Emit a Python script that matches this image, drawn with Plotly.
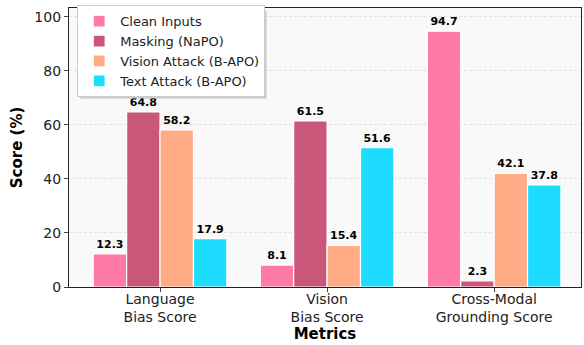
import plotly.graph_objects as go

categories = ["Language<br>Bias Score", "Vision<br>Bias Score", "Cross-Modal<br>Grounding Score"]
series_names = ["Clean Inputs", "Masking (NaPO)", "Vision Attack (B-APO)", "Text Attack (B-APO)"]
clean = [12.3, 8.1, 94.7]
masking = [64.8, 61.5, 2.3]
vision = [58.2, 15.4, 42.1]
text_attack = [17.9, 51.6, 37.8]
colors = ["#ff7ba5", "#c9577a", "#ffab86", "#1edcff"]

values = [clean, masking, vision, text_attack]
x = [0, 1, 2]

fig = go.Figure()
for i, (name, vals, col) in enumerate(zip(series_names, values, colors)):
    fig.add_trace(go.Bar(
        x=x, y=vals, name=name,
        marker=dict(color=col, line=dict(color="white", width=1.2)),
        text=[f"{v:.1f}" for v in vals], textposition="outside",
        textfont=dict(family="DejaVu Sans", size=11, color="black", weight="bold"),
        cliponaxis=False,
    ))

# legend drop shadow (paper coordinates)
fig.add_shape(type="rect", xref="paper", yref="paper",
              x0=0.022, x1=0.386, y0=0.675, y1=0.99,
              fillcolor="#b0b0b0", opacity=0.6, line=dict(width=0), layer="above")

fig.update_layout(
    width=584, height=345,
    barmode="group", bargap=0.2, bargroupgap=0,
    paper_bgcolor="white", plot_bgcolor="#f9f9f9",
    margin=dict(l=69, r=3, t=8, b=58, autoexpand=False),
    font=dict(family="DejaVu Sans", size=13, color="#222222"),
    showlegend=True,
    legend=dict(x=0.016, y=1.01, xanchor="left", yanchor="top",
                bgcolor="white", bordercolor="#cccccc", borderwidth=1,
                font=dict(size=13, color="#222222"), tracegroupgap=0, itemwidth=32),
    uniformtext=dict(mode=False),
)
fig.update_xaxes(
    tickmode="array", tickvals=x, ticktext=categories,
    range=[-0.545, 2.52], showline=True, linecolor="#222222", linewidth=1.2,
    mirror=True, ticks="outside", ticklen=4, tickcolor="#444444", showgrid=False,
    tickfont=dict(size=14), automargin=False, ticklabelstandoff=-5,
    title=dict(text="<b>Metrics</b>", font=dict(size=15, color="black"), standoff=2),
)
fig.update_yaxes(
    range=[0, 103.3], tickvals=[0, 20, 40, 60, 80, 100],
    showline=True, linecolor="#222222", linewidth=1.2, mirror=True,
    ticks="outside", ticklen=4, tickcolor="#444444", showgrid=True, gridcolor="#e2e2e2",
    griddash="3px,2px", gridwidth=0.8, zeroline=False,
    tickfont=dict(size=14), automargin=False,
    title=dict(text="<b>Score (%)</b>", font=dict(size=15, color="black"), standoff=8),
)

fig.write_html("out.html", config={"displayModeBar": False},
               post_script="document.body.style.margin='0';document.body.style.padding='0';")
